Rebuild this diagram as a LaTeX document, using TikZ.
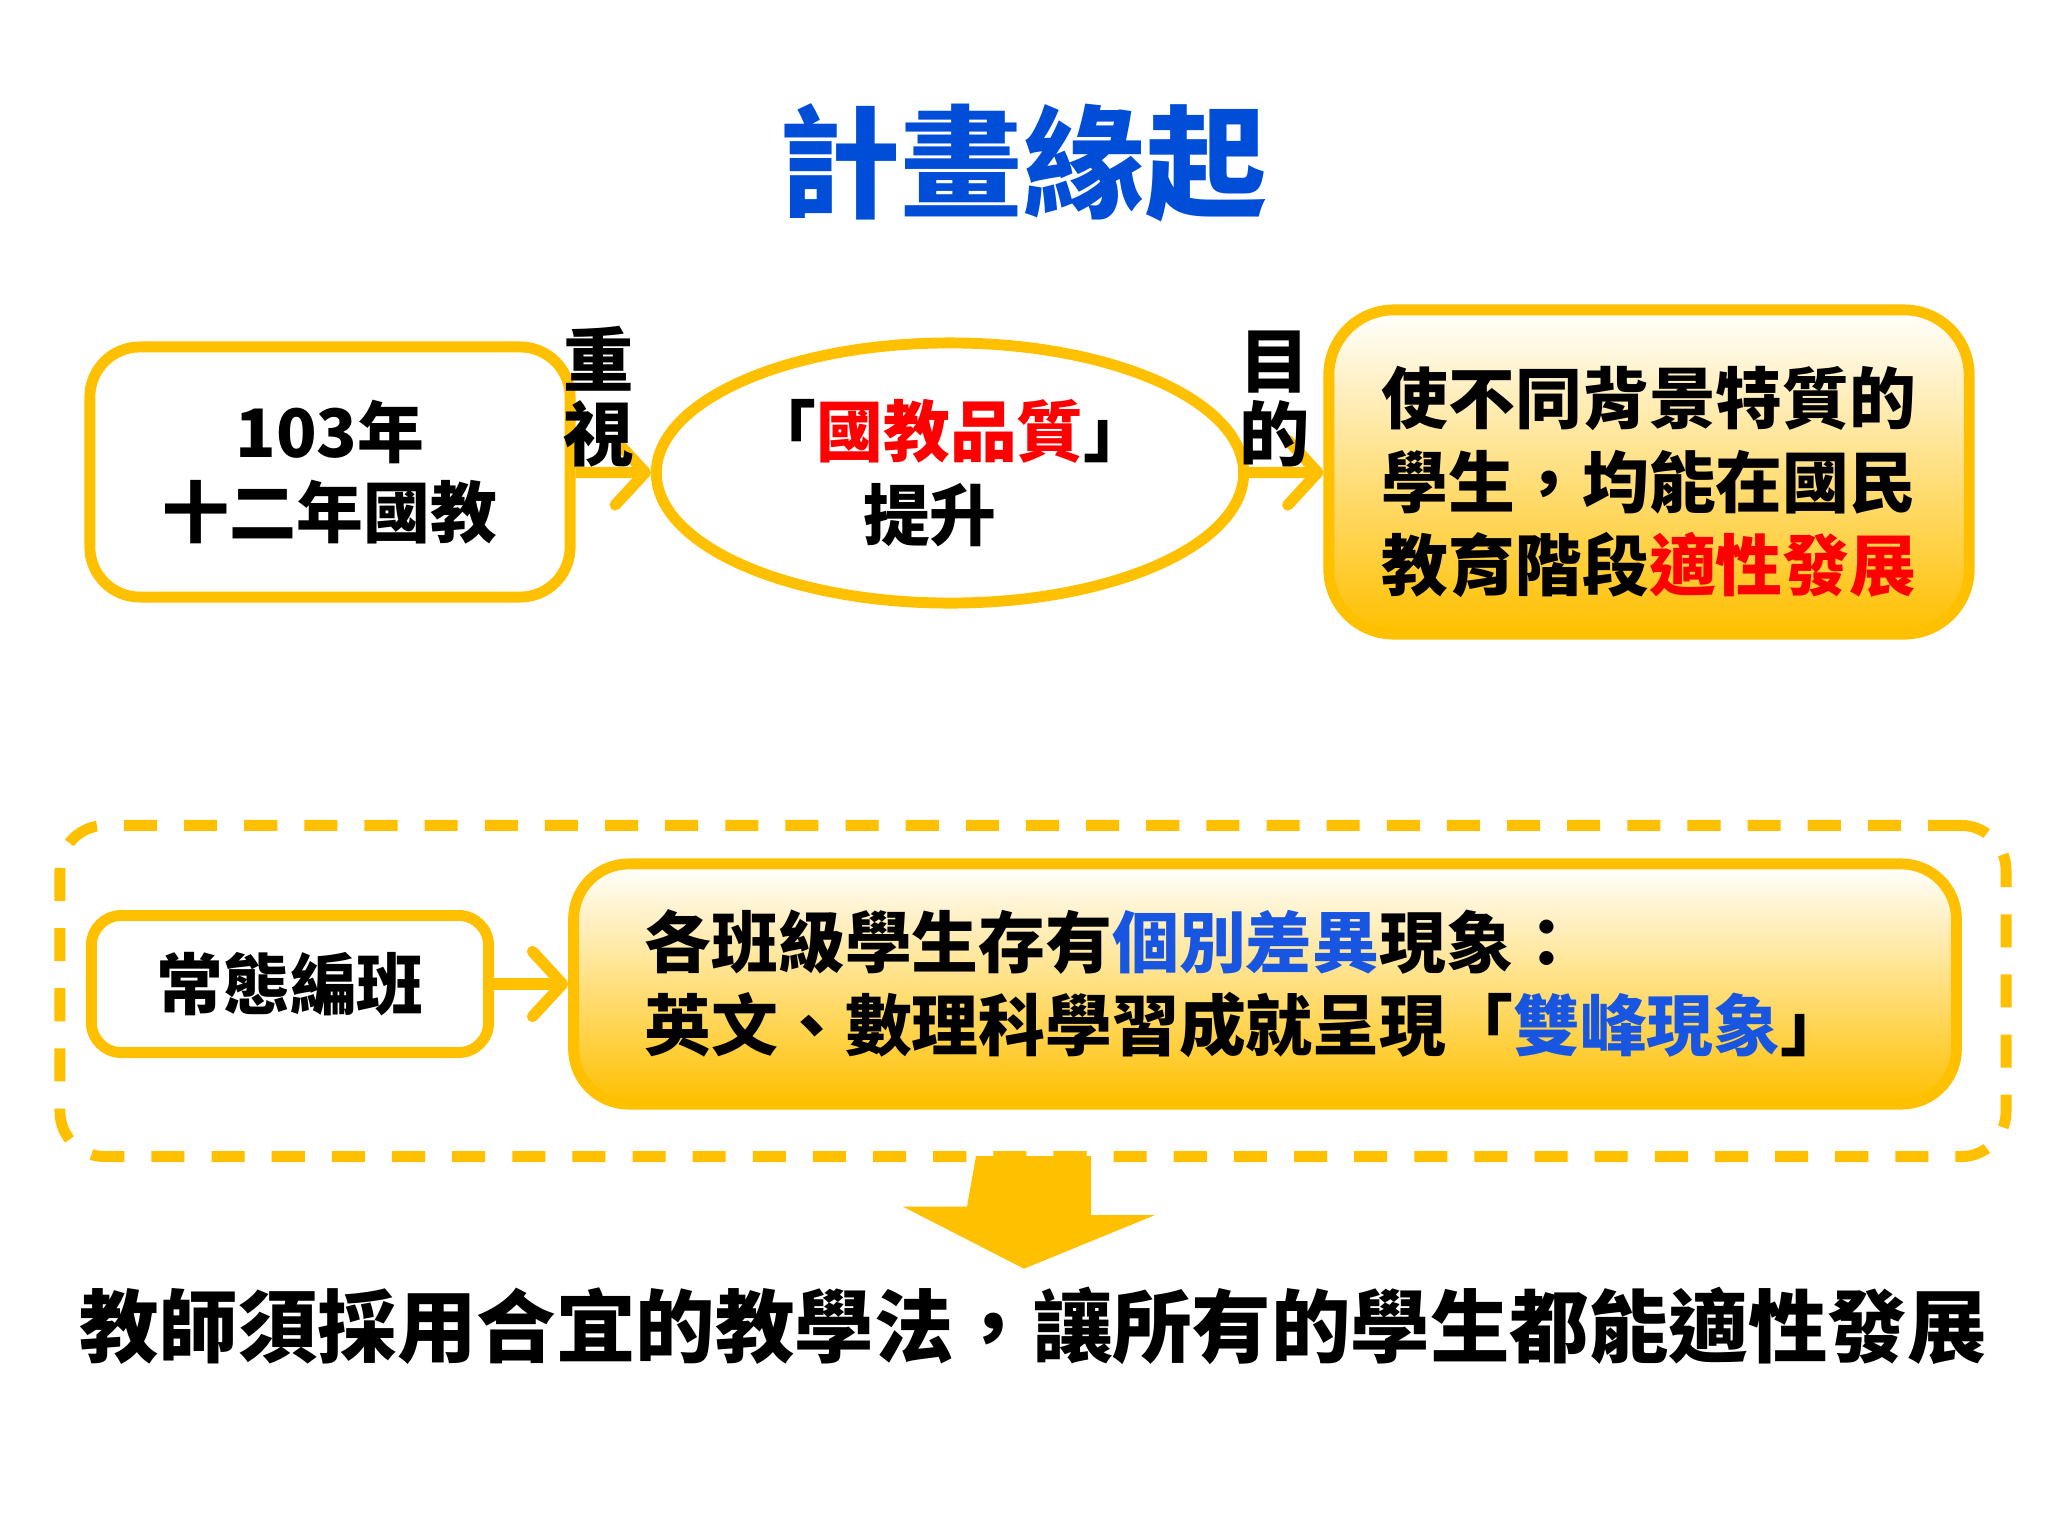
\documentclass[tikz,border=0pt]{standalone}
\usepackage{fontspec}
\setmainfont{Noto Sans CJK TC}
\usetikzlibrary{arrows.meta,positioning,calc,shapes.geometric}
\definecolor{boxyellow}{RGB}{255,192,0}
\definecolor{titleblue}{RGB}{0,78,216}
\definecolor{wordblue}{RGB}{24,86,226}
\definecolor{wordred}{RGB}{255,0,0}
\tikzset{
  box/.style={draw=boxyellow,line width=3.1pt,rounded corners=0.5cm,align=center,inner sep=0pt,
    font=\fontsize{19pt}{22.8pt}\selectfont\bfseries},
  shadedbox/.style={box,top color=white,middle color=boxyellow!30,bottom color=boxyellow},
  link/.style={draw=boxyellow,line width=3.2pt,-{Straight Barb[length=3mm,width=6.5mm,round]}},
  vlabel/.style={above,inner sep=0pt,align=center,font=\fontsize{20pt}{20.8pt}\selectfont\bfseries}
}
\begin{document}
\begin{tikzpicture}[x=0.01cm,y=-0.01cm]
  \useasboundingbox[fill=white] (0,0) rectangle (2048,1536);
  % title
  \node (title) at (1023,163) [font=\fontsize{34.7pt}{40pt}\selectfont\bfseries,text=titleblue] {計畫緣起};
  % upper row
  \node (start) at (330,472) [box,minimum width=4.8cm,minimum height=2.5cm] {103年\\十二年國教};
  \node (quality) at (950,473) [box,ellipse,minimum width=5.87cm,minimum height=2.6cm,
    font=\fontsize{19pt}{24pt}\selectfont\bfseries] {「{\color{wordred}國教品質}」\\提升\hspace*{0.4cm}};
  \node (goal) at (1649,472) [shadedbox,rounded corners=0.65cm,minimum width=6.4cm,minimum height=3.24cm,
    align=left,font=\fontsize{19pt}{23.8pt}\selectfont\bfseries]
    {\rule{0pt}{22pt}使不同背景特質的\\學生，均能在國民\\教育階段{\color{wordred}適性發展}};
  \draw[link] (start) -- node[vlabel,pos=0.3]{重\\視} (quality);
  \draw[link] (quality) -- node[vlabel,pos=0.35]{目\\的} (goal);
  % lower group
  \node (group) at (1033,991) [draw=boxyellow,line width=3.1pt,dash pattern=on 9.4pt off 7.7pt,
    rounded corners=0.45cm,minimum width=19.45cm,minimum height=3.31cm] {};
  \node (normal) at (290,984) [box,rounded corners=0.3cm,minimum width=3.97cm,minimum height=1.37cm] {常態編班};
  \node (diff) at (1265,984) [shadedbox,rounded corners=0.55cm,minimum width=13.82cm,minimum height=2.4cm,
    align=left,text width=12.4cm,font=\fontsize{19pt}{23.5pt}\selectfont\bfseries]
    {各班級學生存有{\color{wordblue}個別差異}現象：\\英文、數理科學習成就呈現「{\color{wordblue}雙峰現象}」};
  \draw[link] (normal) -- (diff);
  % result
  \node (result) at (1033,1326) [font=\fontsize{22.6pt}{26pt}\selectfont\bfseries]
    {教師須採用合宜的教學法，讓所有的學生都能適性發展};
  \fill[boxyellow] ($(group.south)+(-57,-6)$) -- ++(115,0) -- ++(0,59) -- ++(64,0)
    -- ($(result.north)+(-9,-6)$) -- ++(-121,-62) -- ++(64,0) -- cycle;
\end{tikzpicture}
\end{document}
